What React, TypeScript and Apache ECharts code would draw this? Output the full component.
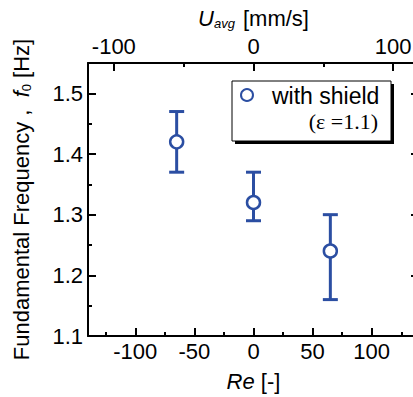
import React, { useEffect, useRef } from "react";
import * as echarts from "echarts";

// Data
const reValues = [-65, 0, 65];
const freqMean = [1.42, 1.32, 1.24];
const freqLow = [1.37, 1.29, 1.16];
const freqHigh = [1.47, 1.37, 1.3];
const seriesName = "with shield";
const seriesNote = "(ε =1.1)";

const BLUE = "#2b4ea2";
const SANS = "'Liberation Sans', Arial, sans-serif";
const SERIF = "'Liberation Serif', 'Times New Roman', serif";

export default function App() {
  const ref = useRef<HTMLDivElement>(null);
  useEffect(() => {
    if (!ref.current) return;
    const chart = echarts.init(ref.current, null, { renderer: "svg" });
    const scatterData = reValues.map((x, i) => [x, freqMean[i]]);
    const errData = reValues.map((x, i) => [x, freqLow[i], freqHigh[i]]);
    const axisLine = { show: true, onZero: false, lineStyle: { color: "#000", width: 2 } };
    const labelStyle = { color: "#000", fontSize: 22, fontFamily: SANS };
    const tick = { show: true, inside: true, length: 8, lineStyle: { width: 2, color: "#000" } };
    const minor = { show: true, splitNumber: 2, length: 4, lineStyle: { width: 2, color: "#000" } };
    chart.setOption({
      animation: false,
      grid: { left: 88, right: 11, top: 63, bottom: 57 },
      xAxis: [
        {
          type: "value",
          position: "bottom",
          min: -140,
          max: 140,
          splitNumber: 5,
          axisLine,
          axisTick: tick,
          minorTick: minor,
          splitLine: { show: false },
          axisLabel: { ...labelStyle, margin: 4, showMinLabel: false, showMaxLabel: false },
          name: "{i|Re} [-]",
          nameLocation: "middle",
          nameGap: 34,
          nameTextStyle: {
            color: "#000",
            fontSize: 22,
            fontFamily: SANS,
            rich: { i: { fontStyle: "italic", fontSize: 22, fontFamily: SANS, color: "#000" } },
          },
        },
        {
          type: "value",
          position: "top",
          min: -118.5,
          max: 118.5,
          splitNumber: 2,
          axisLine,
          axisTick: tick,
          minorTick: minor,
          splitLine: { show: false },
          axisLabel: { ...labelStyle, margin: 6, showMinLabel: false, showMaxLabel: false },
          name: "{i|U}{sub|avg} [mm/s]",
          nameLocation: "middle",
          nameGap: 32,
          nameTextStyle: {
            color: "#000",
            fontSize: 22,
            fontFamily: SANS,
            rich: {
              i: { fontStyle: "italic", fontSize: 22, fontFamily: SANS, color: "#000" },
              sub: { fontStyle: "italic", fontSize: 13, fontFamily: SANS, color: "#000", padding: [10, 2, 0, 0] },
            },
          },
        },
      ],
      yAxis: [
        {
          type: "value",
          position: "left",
          min: 1.1,
          max: 1.55,
          axisLine,
          axisTick: tick,
          minorTick: minor,
          splitLine: { show: false },
          axisLabel: {
            ...labelStyle,
            margin: 5,
            showMaxLabel: false,
            formatter: (v: number) => v.toFixed(1),
          },
          name: "Fundamental Frequency ,  {i|f}{sub|0} [Hz]",
          nameLocation: "middle",
          nameGap: 55,
          nameTextStyle: {
            color: "#000",
            fontSize: 22,
            fontFamily: SANS,
            rich: {
              i: { fontStyle: "italic", fontSize: 22, fontFamily: SANS, color: "#000" },
              sub: { fontSize: 13, fontFamily: SANS, color: "#000", padding: [10, 0, 0, 0] },
            },
          },
        },
        {
          type: "value",
          position: "right",
          min: 1.1,
          max: 1.55,
          axisLine,
          axisTick: tick,
          splitLine: { show: false },
          axisLabel: { show: false },
        },
      ],
      graphic: [
        {
          type: "group",
          x: 232,
          y: 81,
          z: 10,
          children: [
            { type: "rect", z: 10, shape: { x: 3, y: 3, width: 159, height: 60 }, style: { fill: "#000" } },
            { type: "rect", z: 11, shape: { x: 0, y: 0, width: 159, height: 60 }, style: { fill: "#fff", stroke: "#000", lineWidth: 1 } },
            { type: "circle", z: 12, shape: { cx: 15, cy: 14, r: 6 }, style: { fill: "#fff", stroke: BLUE, lineWidth: 2 } },
            {
              type: "text",
              z: 12,
              x: 40,
              y: 15,
              style: { text: seriesName, fill: "#000", fontSize: 23, fontFamily: SANS, verticalAlign: "middle", align: "left" },
            },
            {
              type: "text",
              z: 12,
              x: 146,
              y: 40,
              style: { text: seriesNote, fill: "#000", fontSize: 22, fontFamily: SERIF, verticalAlign: "middle", align: "right" },
            },
          ],
        },
      ],
      series: [
        {
          type: "custom",
          name: "errors",
          xAxisIndex: 0,
          yAxisIndex: 0,
          data: errData,
          z: 2,
          renderItem: (params: any, api: any) => {
            const x = api.value(0);
            const lo = api.coord([x, api.value(1)]);
            const hi = api.coord([x, api.value(2)]);
            const half = 7.5;
            const style = { stroke: BLUE, lineWidth: 3 };
            return {
              type: "group",
              children: [
                { type: "line", shape: { x1: lo[0], y1: lo[1], x2: hi[0], y2: hi[1] }, style },
                { type: "line", shape: { x1: lo[0] - half, y1: lo[1], x2: lo[0] + half, y2: lo[1] }, style },
                { type: "line", shape: { x1: hi[0] - half, y1: hi[1], x2: hi[0] + half, y2: hi[1] }, style },
              ],
            };
          },
        },
        {
          type: "scatter",
          name: seriesName,
          xAxisIndex: 0,
          yAxisIndex: 0,
          data: scatterData,
          symbol: "circle",
          symbolSize: 13,
          z: 3,
          itemStyle: { color: "#fff", borderColor: BLUE, borderWidth: 2.5, opacity: 1 },
        },
      ],
    });
    return () => chart.dispose();
  }, []);
  return (
    <div style={{ position: "fixed", left: 0, top: 0, width: 413, height: 397, overflow: "hidden", background: "#fff" }}>
      <div ref={ref} style={{ width: 430, height: 397 }} />
    </div>
  );
}
